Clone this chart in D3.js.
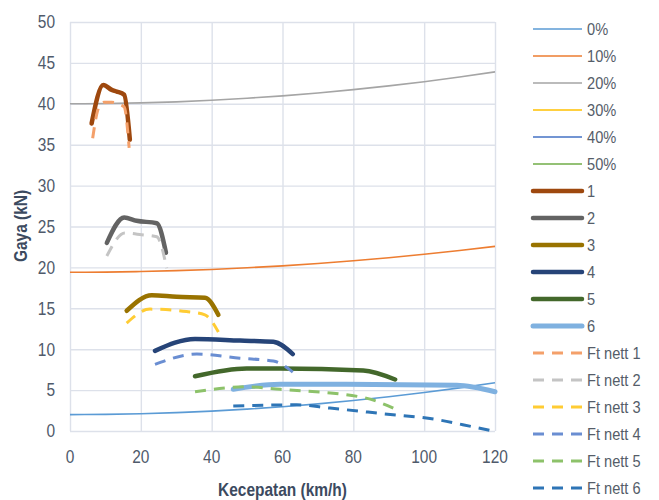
<!DOCTYPE html>
<html><head><meta charset="utf-8">
<script src="https://cdn.jsdelivr.net/npm/d3@7"></script>
<style>
html,body{margin:0;padding:0;background:#fff;}
svg{display:block;font-family:'Liberation Sans',Arial,sans-serif;}
</style></head><body>
<svg id="c" width="659" height="500"></svg>
<script>
// ---- data ----
const xTicks = [0,20,40,60,80,100,120];
const yTicks = [0,5,10,15,20,25,30,35,40,45,50];

const speedR = [0,10,20,30,40,50,60,70,80,90,100,110,120];
const r0  = [2.0,2.03,2.1,2.25,2.43,2.68,2.97,3.32,3.73,4.19,4.7,5.27,5.9];
const r10 = [19.4,19.42,19.49,19.6,19.75,19.95,20.19,20.48,20.81,21.18,21.6,22.06,22.57];
const r20 = [40,40.03,40.11,40.24,40.43,40.68,40.97,41.32,41.73,42.19,42.7,43.27,43.9];
const r30 = [58.7,58.73,58.8,58.95,59.13,59.38,59.67,60.02,60.43,60.89,61.4,61.97,62.6];
const r40 = [76.0,76.03,76.1,76.25,76.43,76.68,76.97,77.32,77.73,78.19,78.7,79.27,79.9];
const r50 = [91.5,91.53,91.6,91.75,91.93,92.18,92.47,92.82,93.23,93.69,94.2,94.77,95.4];

const s1v = [6.1,9.4,11.8,13.2,15.3,16.9],   s1 = [37.6,42.3,41.7,41.5,41.1,35.6];
const s2v = [10.4,15.3,18.8,24.5,27.1],      s2 = [23.0,26.1,25.7,25.4,21.8];
const s3v = [16,23.1,30.1,38.1,41.9],        s3 = [14.7,16.6,16.4,16.3,14.2];
const s4v = [24,35.3,48,57.4,62.9],          s4 = [9.8,11.25,11.05,10.9,9.4];
const s5v = [35.3,49.9,59.3,82.8,91.8],      s5 = [6.7,7.65,7.65,7.4,6.3];
const s6v = [46.1,59.3,78.1,109.2,120],      s6 = [5.1,5.7,5.7,5.6,4.8];

const n1v = [6.4,8.0,9.6,11.8,13.5,15.3,16.7], n1 = [35.8,39.4,40.2,40.2,40.0,39.6,34.6];
const n2v = [10.4,15.5,20.2,24.5,27.3],        n2 = [21.4,24.2,24.0,23.75,19.9];
const n3v = [16,22.6,32.9,38.1,41.9],          n3 = [13.2,14.9,14.6,14.2,12.1];
const n4v = [24,35.8,48,57.4,62.9],            n4 = [8.15,9.4,8.9,8.55,7.2];
const n5v = [35.3,49.9,59.3,82.8,91.8],        n5 = [4.8,5.4,5.1,4.1,2.7];
const n6v = [46.1,64,73.4,87.5,103.5,113.9,119.5], n6 = [3.05,3.2,2.8,2.15,1.4,0.5,0.0];

const seriesNames = ["0%","10%","20%","30%","40%","50%","1","2","3","4","5","6",
  "Ft nett 1","Ft nett 2","Ft nett 3","Ft nett 4","Ft nett 5","Ft nett 6"];

// ---- styles ----
const thin = {w:1.6, dash:null, cap:"butt"};
const thick = {w:4.5, dash:null, cap:"round"};
const dashed = {w:3, dash:"11,8", cap:"butt"};
const series = [
  {xs:speedR, ys:r0,  c:"#5B9BD5", st:thin},
  {xs:speedR, ys:r10, c:"#ED7D31", st:thin},
  {xs:speedR, ys:r20, c:"#A5A5A5", st:thin},
  {xs:speedR, ys:r30, c:"#FFC000", st:thin},
  {xs:speedR, ys:r40, c:"#4472C4", st:thin},
  {xs:speedR, ys:r50, c:"#70AD47", st:thin},
  {xs:s1v, ys:s1, c:"#9E480E", st:thick},
  {xs:s2v, ys:s2, c:"#636363", st:thick},
  {xs:s3v, ys:s3, c:"#997300", st:thick},
  {xs:s4v, ys:s4, c:"#264478", st:thick},
  {xs:s5v, ys:s5, c:"#43682B", st:thick},
  {xs:s6v, ys:s6, c:"#7FB1E0", st:{w:5, dash:null, cap:"round"}},
  {xs:n1v, ys:n1, c:"#F4A06A", st:dashed},
  {xs:n2v, ys:n2, c:"#C4C4C4", st:dashed},
  {xs:n3v, ys:n3, c:"#FFCC33", st:dashed},
  {xs:n4v, ys:n4, c:"#6A8ED2", st:dashed},
  {xs:n5v, ys:n5, c:"#8DC26A", st:dashed},
  {xs:n6v, ys:n6, c:"#2E75B6", st:dashed}
];

const svg = d3.select("#c");
const x = d3.scaleLinear().domain([0,120]).range([70,495]);
const y = d3.scaleLinear().domain([0,50]).range([431,22]);
const txt = "#4F5A6B";
const SX = 0.86; // narrow look

function label(g, tx, ty, str, opts) {
  const t = g.append("text")
    .attr("transform", `translate(${tx},${ty})${opts.rot ? " rotate(" + opts.rot + ")" : ""} scale(${SX},1)`)
    .attr("text-anchor", opts.anchor || "start")
    .attr("dy", opts.dy || "0.35em")
    .attr("font-size", opts.size).attr("fill", opts.fill)
    .text(str);
  if (opts.bold) t.attr("font-weight", "bold");
  return t;
}

// gridlines
const gx = svg.append("g").attr("transform","translate(0,431)")
  .call(d3.axisBottom(x).tickValues(xTicks).tickSize(-409).tickFormat(""));
gx.select(".domain").remove();
gx.selectAll("line").attr("stroke","#DDE1EA").attr("stroke-width",1.4);
const gy = svg.append("g").attr("transform","translate(70,0)")
  .call(d3.axisLeft(y).tickValues(yTicks).tickSize(-425).tickFormat(""));
gy.select(".domain").remove();
gy.selectAll("line").attr("stroke","#DDE1EA").attr("stroke-width",1.4);

// tick labels
const tl = svg.append("g");
xTicks.forEach(v => label(tl, x(v), 457, String(v), {size:18, fill:txt, anchor:"middle"}));
yTicks.forEach(v => label(tl, 55, y(v), String(v), {size:18, fill:txt, anchor:"end"}));

// axis titles
label(svg, 282.5, 490, "Kecepatan (km/h)", {size:18, fill:"#3C4A5F", anchor:"middle", bold:true});
label(svg, 21, 226, "Gaya (kN)", {size:18, fill:"#3C4A5F", anchor:"middle", bold:true, rot:-90});

// clip
svg.append("clipPath").attr("id","pc").append("rect")
  .attr("x",40).attr("y",20).attr("width",470).attr("height",416);

const line = d3.line().curve(d3.curveMonotoneX);
const plot = svg.append("g").attr("clip-path","url(#pc)");
series.forEach(s=>{
  const pts = s.xs.map((v,i)=>[x(v), y(s.ys[i])]);
  plot.append("path").attr("d",line(pts)).attr("fill","none")
    .attr("stroke",s.c).attr("stroke-width",s.st.w)
    .attr("stroke-linecap",s.st.cap).attr("stroke-linejoin","round")
    .attr("stroke-dasharray",s.st.dash);
});

// legend
const lg = svg.append("g");
series.forEach((s,i)=>{
  const yy = 29 + i*27.0;
  lg.append("line").attr("x1",533).attr("x2",582).attr("y1",yy).attr("y2",yy)
    .attr("stroke",s.c).attr("stroke-width",s.st.w)
    .attr("stroke-linecap",s.st.cap).attr("stroke-dasharray",s.st.dash ? "11,8" : null);
  label(lg, 587, yy, seriesNames[i], {size:17, fill:"#555D69"});
});
</script></body></html>
